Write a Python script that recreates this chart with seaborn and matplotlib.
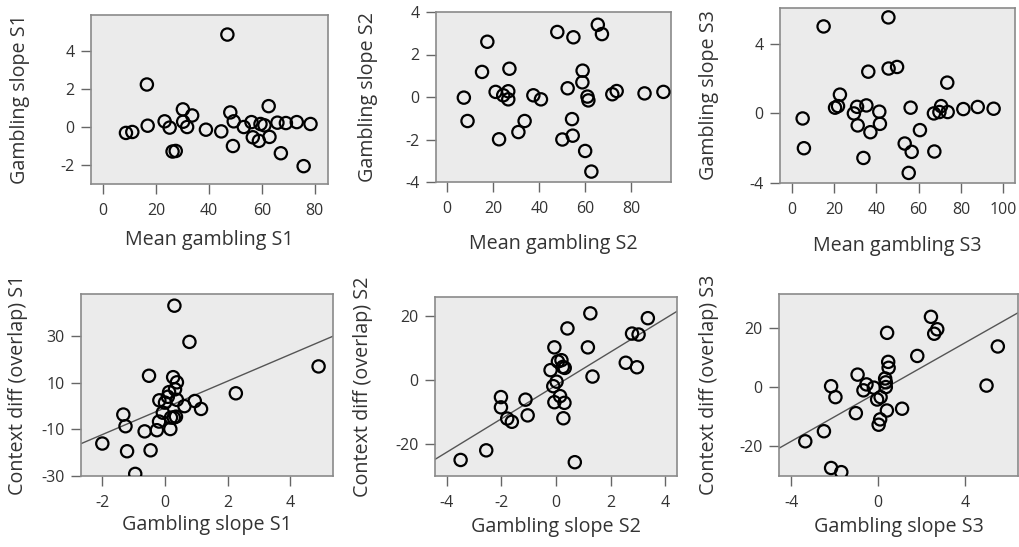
import numpy as np
import pandas as pd
import seaborn as sns
import matplotlib.pyplot as plt

# Top row: mean gambling vs gambling slope, per session
mean_s1 = [47.0, 16.6, 8.7, 11.1, 16.9, 23.3, 25.2, 26.3, 27.5, 30.2, 30.3, 31.8, 33.7, 38.9, 44.7, 48.1,
           49.4, 49.1, 53.2, 56.1, 56.6, 58.9, 59.5, 61.0, 62.6, 62.9, 65.9, 67.2, 69.1, 73.2, 75.8, 78.4]
slope_s1 = [4.87, 2.24, -0.31, -0.26, 0.07, 0.30, -0.03, -1.29, -1.26, 0.93, 0.28, 0.0, 0.61, -0.14, -0.23, 0.77,
            0.30, -1.0, 0.0, 0.26, -0.54, -0.73, 0.16, 0.09, 1.1, -0.52, 0.23, -1.38, 0.21, 0.26, -2.06, 0.16]

mean_s2 = [7.2, 8.8, 15.1, 17.4, 21.0, 22.5, 24.3, 26.5, 26.5, 27.0, 30.9, 33.6, 37.4, 40.7, 47.8, 50.0,
           52.3, 54.5, 54.8, 54.2, 58.8, 58.7, 59.9, 60.9, 61.3, 62.6, 65.4, 67.2, 71.7, 73.6, 85.7, 93.9]
slope_s2 = [-0.03, -1.13, 1.18, 2.6, 0.24, -1.99, 0.08, 0.27, -0.11, 1.33, -1.65, -1.13, 0.08, -0.11, 3.06, -2.0,
            0.41, -1.82, 2.81, -1.04, 1.24, 0.69, -2.54, 0.02, -0.16, -3.51, 3.4, 2.96, 0.13, 0.28, 0.17, 0.24]

mean_s3 = [5.2, 5.8, 15.1, 20.5, 21.9, 22.8, 29.4, 30.9, 31.2, 33.9, 35.3, 36.2, 37.2, 41.4, 41.7, 45.7,
           45.8, 49.8, 53.4, 55.3, 56.2, 56.7, 60.6, 67.2, 67.4, 69.8, 70.6, 73.5, 73.7, 81.1, 87.9, 95.4]
slope_s3 = [-0.29, -2.0, 5.0, 0.33, 0.42, 1.08, 0.0, 0.38, -0.69, -2.56, 0.46, 2.4, -1.08, 0.1, -0.6, 5.52,
            2.58, 2.67, -1.73, -3.42, 0.33, -2.21, -0.96, 0.0, -2.19, 0.08, 0.42, 1.77, 0.08, 0.25, 0.37, 0.27]

# Bottom row: gambling slope vs context difference (overlap)
bx_s1 = [-2.0, -1.33, -1.26, -1.21, -0.95, -0.65, -0.51, -0.46, -0.26, -0.19, -0.18, -0.07, 0.0, 0.09, 0.13,
         0.17, 0.19, 0.26, 0.28, 0.3, 0.32, 0.35, 0.38, 0.38, 0.62, 0.78, 0.95, 1.15, 2.26, 4.9]
ctx_s1 = [-16.1, -3.7, -8.7, -19.4, -29.1, -10.9, 12.9, -19.0, -10.4, -6.7, 2.4, -2.9, 1.4, 3.9, 5.9,
          -9.9, -5.0, 12.3, -5.0, 42.9, 7.1, -4.6, 10.1, 2.6, -0.1, 27.4, 2.1, -1.3, 5.4, 16.9]

bx_s2 = [-3.5, -2.56, -2.02, -2.02, -1.79, -1.62, -1.12, -1.04, -0.2, -0.1, -0.06, -0.06, 0.02, 0.07, 0.15,
         0.2, 0.25, 0.31, 0.27, 0.32, 0.42, 0.69, 1.17, 1.26, 1.34, 2.56, 2.79, 3.03, 2.97, 3.37]
ctx_s2 = [-25.0, -22.0, -5.4, -8.6, -12.1, -13.1, -6.2, -11.1, 3.0, -2.0, 10.1, -7.0, -0.6, 5.7, -5.1,
          6.1, 4.0, -7.2, -12.0, 3.7, 16.0, -25.7, 10.1, 20.7, 1.0, 5.3, 14.4, 14.1, 3.9, 19.2]

bx_s3 = [-3.36, -2.5, -2.17, -2.17, -1.97, -1.7, -1.03, -0.95, -0.68, -0.54, -0.2, -0.05, 0.02, 0.09, 0.11,
         0.32, 0.35, 0.35, 0.4, 0.41, 0.46, 0.48, 1.1, 1.8, 2.43, 2.58, 2.72, 4.99, 5.51]
ctx_s3 = [-18.3, -14.9, 0.3, -27.3, -3.4, -28.7, -8.8, 4.2, -1.1, 0.9, -0.2, -4.2, -12.7, -10.9, -3.4,
          2.9, 0.0, 1.6, -7.9, 18.3, 8.5, 6.5, -7.3, 10.5, 23.7, 18.0, 19.5, 0.5, 13.7]

W, H = 1019, 547
plt.rcParams['font.family'] = ['Open Sans', 'DejaVu Sans']
plt.rcParams['axes.unicode_minus'] = False
fig = plt.figure(figsize=(W / 100, H / 100), dpi=100)

# axes boxes in pixels: left, top, right, bottom
boxes = [(91, 15, 328, 184), (436, 12, 671, 182), (780, 8, 1015, 183),
         (81, 294, 333, 476), (435, 297, 677, 476), (779, 294, 1018, 476)]
# label centre offsets from the box, pixels (x label below, y label left)
xl_off = [56, 62, 63, 49, 51, 51]
yl_off = [71, 68, 71, 63, 72, 70]

panels = [
    dict(x=mean_s1, y=slope_s1, xl="Mean gambling S1", yl="Gambling slope S1",
         xlim=(-4.5, 85), ylim=(-3, 5.9), xt=[0, 20, 40, 60, 80], yt=[-2, 0, 2, 4], fit=False),
    dict(x=mean_s2, y=slope_s2, xl="Mean gambling S2", yl="Gambling slope S2",
         xlim=(-4.9, 97.2), ylim=(-4, 4), xt=[0, 20, 40, 60, 80], yt=[-4, -2, 0, 2, 4], fit=False),
    dict(x=mean_s3, y=slope_s3, xl="Mean gambling S3", yl="Gambling slope S3",
         xlim=(-5.5, 105.5), ylim=(-4, 6.06), xt=[0, 20, 40, 60, 80, 100], yt=[-4, 0, 4], fit=False),
    dict(x=bx_s1, y=ctx_s1, xl="Gambling slope S1", yl="Context diff (overlap) S1",
         xlim=(-2.68, 5.36), ylim=(-30, 47.9), xt=[-2, 0, 2, 4], yt=[-30, -10, 10, 30], fit=True),
    dict(x=bx_s2, y=ctx_s2, xl="Gambling slope S2", yl="Context diff (overlap) S2",
         xlim=(-4.44, 4.44), ylim=(-30, 25.8), xt=[-4, -2, 0, 2, 4], yt=[-20, 0, 20], fit=True),
    dict(x=bx_s3, y=ctx_s3, xl="Gambling slope S3", yl="Context diff (overlap) S3",
         xlim=(-4.57, 6.44), ylim=(-30, 31.4), xt=[-4, 0, 4], yt=[-20, 0, 20], fit=True),
]

for (l, t, r, b), p, xo, yo in zip(boxes, panels, xl_off, yl_off):
    ax = fig.add_axes([l / W, 1 - b / H, (r - l) / W, (b - t) / H])
    ax.set_facecolor("#ebebeb")
    df = pd.DataFrame({"x": p["x"], "y": p["y"]})
    ax.set_xlim(p["xlim"])
    ax.set_ylim(p["ylim"])
    if p["fit"]:
        sns.regplot(data=df, x="x", y="y", ax=ax, scatter=False, ci=None, truncate=False,
                    line_kws=dict(color="#555555", lw=1.0))
    sns.scatterplot(data=df, x="x", y="y", ax=ax, s=78, facecolor="none",
                    edgecolor="black", linewidth=1.6, zorder=3)
    ax.set_xlim(p["xlim"])
    ax.set_ylim(p["ylim"])
    ax.set_xticks(p["xt"])
    ax.set_yticks(p["yt"])
    for s in ax.spines.values():
        s.set_color("#8a8a8a")
        s.set_linewidth(1.2)
    ax.tick_params(length=7, width=1.0, color="#666666", labelsize=11.5, labelcolor="#333333")
    ax.tick_params(axis="x", pad=7)
    ax.tick_params(axis="y", pad=5)
    ax.set_xlabel(p["xl"], fontsize=14.2, color="#333333", va="center")
    ax.set_ylabel(p["yl"], fontsize=14.2, color="#333333", va="center")
    ax.xaxis.set_label_coords(0.5, -xo / (b - t))
    ax.yaxis.set_label_coords(-yo / (r - l), 0.5)

fig.savefig("out.png", dpi=100)
